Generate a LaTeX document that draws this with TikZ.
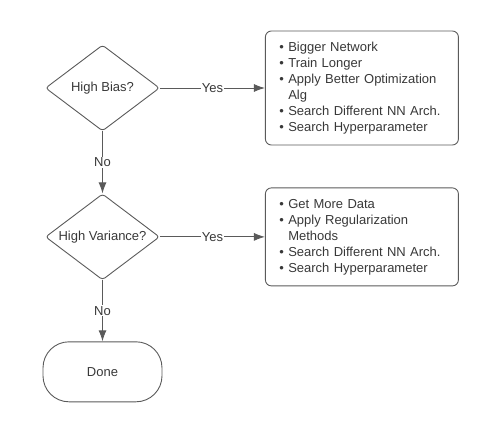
\documentclass[tikz,border=0pt]{standalone}
\usepackage{fontspec}
\setmainfont{Liberation Sans}
\usetikzlibrary{shapes.geometric,arrows.meta,positioning}
\definecolor{linegray}{HTML}{5A5A5A}
\definecolor{textgray}{HTML}{383838}
\begin{document}
\begin{tikzpicture}[x=1pt,y=-1pt,font=\fontsize{13}{16}\selectfont,text=textgray,draw=linegray,line width=0.9pt,>={Latex[length=11pt,width=8pt]}]
    \tikzstyle{decision}=[diamond,draw=linegray,rounded corners=3pt,aspect=1.33,minimum width=114pt,minimum height=86pt,inner sep=0pt]
    \tikzstyle{todo}=[rectangle,draw=linegray,rounded corners=6pt,text width=165pt,inner xsep=14pt,minimum width=193pt,align=left]
    \tikzstyle{stop}=[rectangle,draw=linegray,rounded corners=26pt,minimum width=119pt,minimum height=60pt]
    \tikzstyle{annot}=[fill=white,inner sep=1pt]

    \useasboundingbox (0,0) rectangle (485,426);

    \node[decision] (bias) at (102.5,88) {High Bias?};
    \node[todo,minimum height=114pt,right=105pt of bias] (fixbias) {• Bigger Network\\ • Train Longer\\ • Apply Better Optimization\\ \phantom{• }Alg\\ • Search Different NN Arch.\\ • Search Hyperparameter};

    \node[decision,below=62pt of bias] (variance) {High Variance?};
    \node[todo,minimum height=98pt,right=105pt of variance] (fixvariance) {• Get More Data\\ • Apply Regularization\\ \phantom{• }Methods\\ • Search Different NN Arch.\\ • Search Hyperparameter};

    \node[stop,below=61pt of variance] (done) {Done};

    \draw[->] (bias) -- node[annot] {Yes} (fixbias);
    \draw[->] (bias) -- node[annot] {No} (variance);
    \draw[->] (variance) -- node[annot] {Yes} (fixvariance);
    \draw[->] (variance) -- node[annot] {No} (done);
\end{tikzpicture}
\end{document}
